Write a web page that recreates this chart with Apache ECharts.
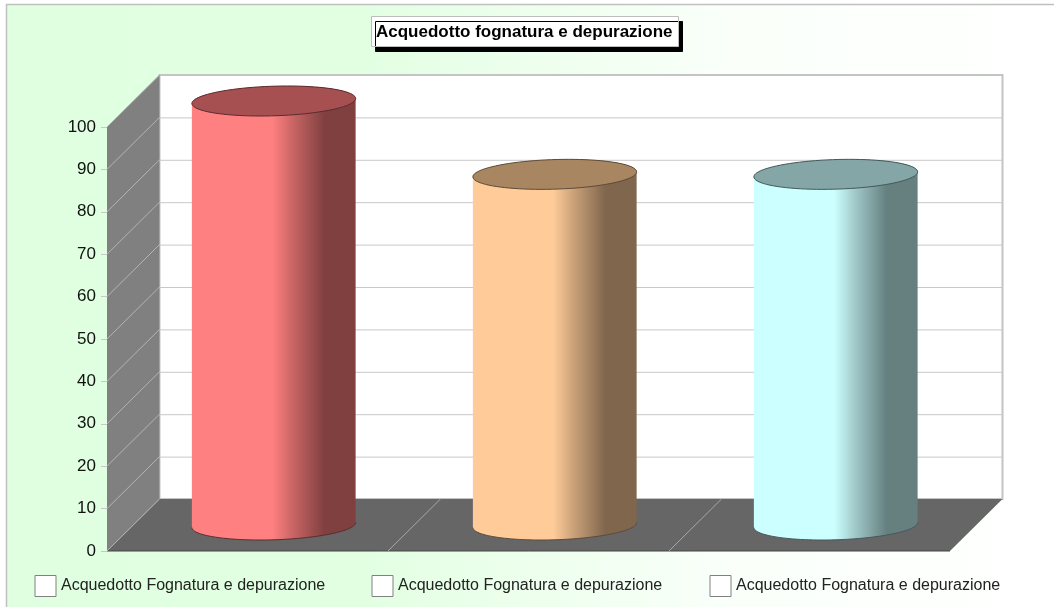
<!DOCTYPE html>
<html>
<head>
<meta charset="utf-8">
<style>html,body{margin:0;padding:0;background:#fff}#c{width:1054px;height:607px}</style>
<script src="https://cdn.jsdelivr.net/npm/echarts@6/dist/echarts.min.js"></script>
</head>
<body>
<div id="c"></div>
<script>
const chartTitle = 'Acquedotto fognatura e depurazione';
const seriesName = 'Acquedotto Fognatura e depurazione';
const categories = ['A', 'B', 'C'];
const values = [100, 82.7, 82.7];
const yTicks = [0, 10, 20, 30, 40, 50, 60, 70, 80, 90, 100];

const DEPTH_X = 52.5, DEPTH_Y = 52;
const RX_RATIO = 0.2915, RY = 14.8, TILT = -1.8 * Math.PI / 180;
const FONT = '"Liberation Sans", Arial, sans-serif';
const palette = [
  { light: '#ff8080', mid: '#c86464', dark: '#804040', top: '#a65052', line: '#5a2c2e' },
  { light: '#ffcc99', mid: '#c8a078', dark: '#80664d', top: '#a98662', line: '#5c4a38' },
  { light: '#ccffff', mid: '#a0c8c8', dark: '#668080', top: '#85a6a6', line: '#445858' }
];

function ellipsePoint(cx, cy, rx, t) {
  const x = rx * Math.cos(t), y = RY * Math.sin(t);
  return [cx + x * Math.cos(TILT) - y * Math.sin(TILT), cy + x * Math.sin(TILT) + y * Math.cos(TILT)];
}
function arc(cx, cy, rx, from, to) {
  const pts = [], n = 90;
  for (let i = 0; i <= n; i++) pts.push(ellipsePoint(cx, cy, rx, from + (to - from) * i / n));
  return pts;
}

function renderRoom(params, api) {
  const v = api.value(0);
  const band = api.size([1, 0])[0];
  const x0 = api.coord([0, 0])[0] - band / 2;
  const x1 = x0 + band * categories.length;
  const yBase = api.coord([0, 0])[1];
  const yTop = api.coord([0, yTicks[yTicks.length - 1]])[1];
  const y = api.coord([0, v])[1];
  const children = [];
  const wallLine = { stroke: '#c8c8c8', lineWidth: 1 };
  if (params.dataIndex === 0) {
    children.push({ type: 'polygon', shape: { points: [[x0 + DEPTH_X, yTop - DEPTH_Y], [x1 + DEPTH_X, yTop - DEPTH_Y], [x1 + DEPTH_X, yBase - DEPTH_Y], [x0 + DEPTH_X, yBase - DEPTH_Y]] }, style: { fill: '#fff', stroke: '#c4c4c4', lineWidth: 2 } });
    children.push({ type: 'polygon', shape: { points: [[x0, yTop], [x0 + DEPTH_X, yTop - DEPTH_Y], [x0 + DEPTH_X, yBase - DEPTH_Y], [x0, yBase]] }, style: { fill: '#808080' } });
    children.push({ type: 'polygon', shape: { points: [[x0, yBase], [x1, yBase], [x1 + DEPTH_X, yBase - DEPTH_Y], [x0 + DEPTH_X, yBase - DEPTH_Y]] }, style: { fill: '#666666' } });
    children.push({ type: 'line', shape: { x1: x0, y1: yBase, x2: x1, y2: yBase }, style: { stroke: '#444', lineWidth: 1 } });
    for (let i = 1; i < categories.length; i++) {
      const bx = x0 + band * i;
      children.push({ type: 'line', shape: { x1: bx, y1: yBase, x2: bx + DEPTH_X, y2: yBase - DEPTH_Y }, style: { stroke: '#a8a8a8', lineWidth: 1 } });
    }
  }
  children.push({ type: 'line', shape: { x1: x0, y1: y, x2: x0 + DEPTH_X, y2: y - DEPTH_Y }, style: { stroke: '#b4b4b4', lineWidth: 1 } });
  if (v > 0 && v < yTicks[yTicks.length - 1]) {
    children.push({ type: 'line', shape: { x1: x0 + DEPTH_X, y1: y - DEPTH_Y + 0.5, x2: x1 + DEPTH_X, y2: y - DEPTH_Y + 0.5 }, style: wallLine });
  }
  return { type: 'group', children };
}

function renderCylinder(colors) {
  return function (params, api) {
    const c = api.coord([api.value(0), 0]);
    const band = api.size([1, 0])[0];
    const rx = band * RX_RATIO;
    const cx = c[0] + DEPTH_X / 2;
    const baseY = c[1] - DEPTH_Y / 2;
    const topY = api.coord([api.value(0), api.value(1)])[1] - DEPTH_Y / 2;
    const bottomArc = arc(cx, baseY, rx, 0, Math.PI);
    const topArc = arc(cx, topY, rx, 0, Math.PI * 2);
    const side = arc(cx, topY, rx, Math.PI, Math.PI * 2).concat(bottomArc);
    const gradient = new echarts.graphic.LinearGradient(0, 0, 1, 0, [
      { offset: 0, color: colors.light }, { offset: 0.49, color: colors.light },
      { offset: 0.62, color: colors.mid }, { offset: 0.81, color: colors.dark },
      { offset: 1, color: colors.dark }
    ]);
    return {
      type: 'group',
      children: [
        { type: 'polygon', shape: { points: side }, style: { fill: gradient } },
        { type: 'polyline', shape: { points: bottomArc }, style: { fill: null, stroke: colors.line, lineWidth: 1 } },
        { type: 'polygon', shape: { points: topArc }, style: { fill: colors.top, stroke: colors.line, lineWidth: 1 } }
      ]
    };
  };
}

const legendLefts = [34.5, 371.5, 709.5];
const option = {
  animation: false,
  backgroundColor: '#fff',
  title: {
    text: chartTitle, left: 371, top: 16,
    padding: [7, 6, 6, 5],
    backgroundColor: '#fff', borderColor: '#bdbdbd', borderWidth: 1,
    shadowColor: '#000', shadowOffsetX: 4, shadowOffsetY: 5, shadowBlur: 0,
    textStyle: { fontFamily: FONT, fontSize: 17, fontWeight: 'bold', color: '#000', lineHeight: 18 }
  },
  legend: legendLefts.map(left => ({
    left, top: 575, padding: 0, itemWidth: 21, itemHeight: 21, itemGap: 10,
    selectedMode: false, icon: 'rect',
    data: [{ name: seriesName, icon: 'rect', itemStyle: { color: '#fff', borderColor: '#808080', borderWidth: 1 } }],
    textStyle: { fontFamily: FONT, fontSize: 16, color: '#222' }
  })),
  grid: { left: 107, top: 127, width: 843, height: 424, containLabel: false },
  xAxis: {
    type: 'category', data: categories,
    axisLabel: { show: false }, axisTick: { show: false }, axisLine: { show: false }, splitLine: { show: false }
  },
  yAxis: {
    type: 'value', min: 0, max: 100, interval: 10,
    axisLine: { show: false },
    axisTick: { show: true, length: 6, lineStyle: { color: '#c8c8c8' } },
    axisLabel: { fontFamily: FONT, fontSize: 17, color: '#111', margin: 11 },
    splitLine: { show: false }
  },
  graphic: [
    { type: 'rect', z: -100, silent: true, shape: { x: 6.5, y: 4.5, width: 1060, height: 620 },
      style: { stroke: '#c0c0c0', lineWidth: 1.5,
        fill: new echarts.graphic.LinearGradient(0, 0, 1, 0, [
          { offset: 0, color: '#e0ffe0' }, { offset: 0.33, color: '#e2ffe2' },
          { offset: 0.68, color: '#faFFfa' }, { offset: 1, color: '#ffffff' }
        ]) } }
  ],
  series: [
    { type: 'custom', name: 'room', coordinateSystem: 'cartesian2d', clip: false, z: 1, silent: true,
      encode: { y: 0 }, data: yTicks.map(v => [v]), renderItem: renderRoom }
  ].concat(values.map((v, i) => ({
    type: 'custom', name: seriesName, coordinateSystem: 'cartesian2d', clip: false, z: 3, silent: true,
    itemStyle: { color: '#fff' },
    encode: { x: 0, y: 1 }, data: [[i, v]], renderItem: renderCylinder(palette[i])
  })))
};
echarts.init(document.getElementById('c'), null, { renderer: 'canvas' }).setOption(option);
</script>
</body>
</html>
